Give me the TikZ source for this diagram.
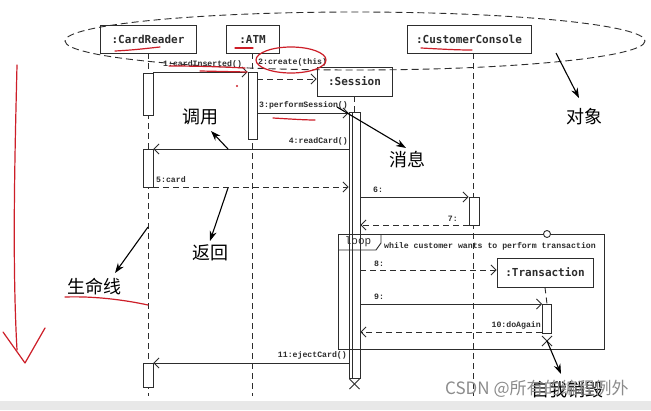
\documentclass[tikz,border=0pt]{standalone}
\usepackage{fontspec}
\usetikzlibrary{arrows.meta,calc}
\newfontfamily\boxfont{DejaVu Sans Mono}
\newfontfamily\msgfont{Liberation Mono}
\newfontfamily\cjk{Noto Sans CJK SC}
\definecolor{ln}{RGB}{45,45,45}
\definecolor{handred}{RGB}{205,30,40}
\tikzset{
  obj/.style={draw=ln, fill=white, line width=0.9pt, font=\boxfont\bfseries\fontsize{11}{13}\selectfont, text=ln, inner sep=0pt, minimum height=28pt},
  act/.style={draw=ln, fill=white, line width=0.9pt, inner sep=0pt, minimum width=10pt, anchor=north},
  life/.style={draw=ln, line width=0.9pt, dash pattern=on 6pt off 4pt},
  call/.style={draw=ln, line width=0.9pt, -{Straight Barb[length=5pt,width=10pt]}},
  ret/.style={call, dash pattern=on 6pt off 4pt},
  lbl/.style={font=\msgfont\bfseries\fontsize{8.2}{9}\selectfont, inner sep=0pt, text=ln},
  note/.style={font=\cjk\fontsize{18}{20}\selectfont, inner sep=0pt},
  ptr/.style={draw=black, line width=1.1pt, -{Stealth[length=10pt,width=7pt]}},
  hand/.style={draw=handred, line width=1.2pt, line cap=round, line join=round},
  xmark/.style={draw=ln, line width=1pt},
  frame/.style={draw=ln, line width=0.9pt}
}
\begin{document}
\begin{tikzpicture}[x=1pt,y=-1pt]
\useasboundingbox (0,0) rectangle (651,410);
\fill[white] (0,0) rectangle (651,410);
\fill[black!9] (0,401) rectangle (651,410);

% lifelines
\coordinate (crEnd) at (148,396);
\coordinate (atmEnd) at (252.5,396);
\coordinate (ccTop) at (473,53);
\coordinate (ccEnd) at (473,396);

% object boxes
\node[obj, minimum width=96pt] (cr) at (148,39) {:CardReader};
\node[obj, minimum width=53pt] (atm) at (252.5,39) {:ATM};
\node[obj, minimum width=124pt] (cc) at (469,39) {:CustomerConsole};

\draw[life] (cr.south) -- (crEnd);
\draw[life] (atm.south) -- (atmEnd);
\draw[life] (ccTop) -- (ccEnd);

\node[obj, minimum width=75pt, minimum height=29pt] (ses) at (354.5,81.5) {:Session};
\node[obj, minimum width=96pt, minimum height=29pt] (tr) at (545,272.5) {:Transaction};

% activations
\node[act, minimum height=42pt] (cr1) at (148,73) {};
\node[act, minimum height=38pt] (cr2) at (148,149) {};
\node[act, minimum height=24pt] (cr3) at (148,363) {};
\node[act, minimum width=9pt, minimum height=67pt] (atm1) at (252.5,72) {};
\draw[life] (ses.south) -- (354.5,112);
\node[act, minimum width=11pt, minimum height=266pt] (ses1) at (354.5,112) {};
\node[act, minimum width=8pt, minimum height=266pt] (ses2) at (356,112) {};
\node[act, minimum width=10pt, minimum height=28pt] (cc1) at (474,197) {};
\draw[life] (tr.south) -- (547,304);
\node[act, minimum width=9pt, minimum height=29pt] (tr1) at (547,304) {};

% loop frame (drawn over the bars, unfilled)
\draw[frame] (338,234) rectangle (604,349);
\draw[frame] (338,250) -- (376,250) -- (381,243) -- (381,234);
\node[font=\msgfont\fontsize{11}{12}\selectfont, inner sep=0pt, text=ln] (looptag) at (358,242) {loop};
\node[lbl, anchor=west] (guard) at (384,246.5) {while customer wants to perform transaction};
\draw[frame, fill=white] (547,234) circle (3.5pt);

% messages
\draw[call] (cr1.east |- 0,72) -- (atm1.west |- 0,72);
\node[lbl, anchor=south west] (m1) at (163,68) {1:cardInserted()};
\draw[ret] (atm1.east |- 0,79) -- (ses.west |- 0,79);
\node[lbl, anchor=south west] (m2) at (258,66) {2:create(this)};
\draw[call] (atm1.east |- 0,113) -- (ses1.west |- 0,113);
\node[lbl, anchor=south west] (m3) at (259,109) {3:performSession()};
\draw[call] (ses1.west |- 0,149) -- (cr2.east |- 0,149);
\node[lbl, anchor=south east] (m4) at (348,145) {4:readCard()};
\draw[ret] (cr2.east |- 0,187) -- (ses1.west |- 0,187);
\node[lbl, anchor=south west] (m5) at (156,183) {5:card};
\draw[call] (ses1.east |- 0,197) -- (cc1.west |- 0,197);
\node[lbl, anchor=south west] (m6) at (373,193) {6:};
\draw[ret] (cc1.west |- 0,225) -- (ses1.east |- 0,225);
\node[lbl, anchor=south east] (m7) at (458,222) {7:};
\draw[ret] (ses1.east |- 0,270) -- (tr.west |- 0,270);
\node[lbl, anchor=south west] (m8) at (374,267) {8:};
\draw[call] (ses1.east |- 0,304) -- (tr1.west |- 0,304);
\node[lbl, anchor=south west] (m9) at (374,300) {9:};
\draw[ret] (tr1.west |- 0,332) -- (ses1.east |- 0,332);
\node[lbl, anchor=south east] (m10) at (541,329) {10:doAgain};
\draw[call] (ses1.west |- 0,363) -- (cr3.east |- 0,363);
\node[lbl, anchor=south east] (m11) at (347,359) {11:ejectCard()};

% destruction marks
\coordinate (sesX) at (354.5,384);
\draw[xmark] ($(sesX)+(-5,-5)$) -- ($(sesX)+(5,5)$);
\draw[xmark] ($(sesX)+(-5,5)$) -- ($(sesX)+(5,-5)$);
\coordinate (trX) at (547,341);
\draw[xmark] ($(trX)+(-5,-5)$) -- ($(trX)+(5,5)$);
\draw[xmark] ($(trX)+(-5,5)$) -- ($(trX)+(5,-5)$);

% objects ellipse
\draw[ln, line width=0.9pt, dash pattern=on 7pt off 4pt] (355,41) ellipse [x radius=290, y radius=29];

% annotations
\node[note] (nObj) at (584,117) {对象};
\node[note] (nMsg) at (407,160) {消息};
\node[note] (nCall) at (200,117) {调用};
\node[note] (nRet) at (210,253) {返回};
\node[note] (nLife) at (94,287) {生命线};
\coordinate (objFrom) at (556,53);
\coordinate (msgFrom) at (337,107);
\coordinate (callFrom) at (228,149);
\coordinate (retFrom) at (228,188);
\coordinate (lifeFrom) at (148,227);
\coordinate (dieTo) at (561,374);
\draw[ptr] (objFrom) -- (579,98);
\draw[ptr] (msgFrom) -- (406,148);
\draw[ptr] (callFrom) -- (211,131);
\draw[ptr] (retFrom) -- (210,241);
\draw[ptr] (lifeFrom) -- (115,273);
\draw[ptr] (trX) -- (dieTo);

% hidden annotation and watermark (overlapping, as in the reference)
\node[note, anchor=west] (nDie) at (531,390) {自我销毁};
\node[font=\cjk\fontsize{17}{19}\selectfont, text=black!45, inner sep=0pt, anchor=west] (wm) at (445,389) {CSDN @所有的编程例外};

% red hand marks
\draw[hand] (115,51) .. controls (135,50) and (150,48) .. (160,47);
\draw[hand] (235,48) -- (253,48);
\draw[hand] (421,48) .. controls (440,49) and (455,50) .. (472,50);
\draw[hand] (291,60) ellipse [x radius=35, y radius=13];
\draw[hand] (169,66) .. controls (200,66) and (225,67) .. (245,68);
\draw[hand] (200,71) -- (247,72);
\fill[handred] (237,86) circle (1.2pt);
\draw[hand] (273,118) .. controls (290,119) and (305,120) .. (315,120);
\draw[hand] (65,297) .. controls (95,296) and (125,300) .. (148,305);
\draw[hand] (17,65) .. controls (15,150) and (12,260) .. (17,350);
\draw[hand] (3,332) -- (25,363) -- (45,328);
\end{tikzpicture}
\end{document}
